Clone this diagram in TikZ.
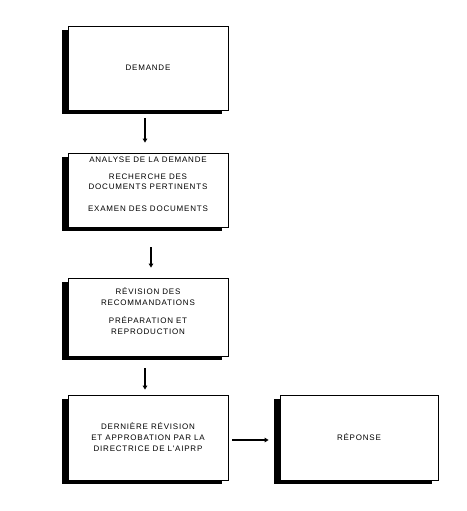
\documentclass[tikz,border=0pt]{standalone}
\usepackage{fontspec}
\newfontfamily\boxfont{Liberation Sans}[LetterSpace=10]
\usepackage{tikz}
\usetikzlibrary{shapes,arrows,positioning,calc,shadows,arrows.meta}

\tikzset{
    etape/.style={draw, line width=0.8pt, fill=white, minimum width=160pt, align=center,
        font=\boxfont\fontsize{8}{10.5}\selectfont,
        drop shadow={shadow xshift=-6pt, shadow yshift=-4pt, fill=black, opacity=1}},
    fleche/.style={line width=1.8pt, -{Triangle[length=4pt,width=4.5pt]}}
}

\begin{document}
\begin{tikzpicture}[x=1pt, y=-1pt]
            \useasboundingbox (0,0) rectangle (466,511);

            % Demande
            \node[etape, minimum height=84pt] (dem) at (148,68) {DEMANDE};

            % Analyse
            \node[etape, minimum height=74pt] (ana) at (148,190) {ANALYSE DE LA DEMANDE\\[6pt]
                RECHERCHE DES\\DOCUMENTS PERTINENTS\\[11pt]EXAMEN DES DOCUMENTS\\[1pt]\mbox{}};

            % Revision
            \node[etape, minimum height=78pt] (rev) at (148,317) {RÉVISION DES\\RECOMMANDATIONS\\[8pt]
                PRÉPARATION ET\\REPRODUCTION\\[1pt]\mbox{}};

            % Approbation
            \node[etape, minimum height=85pt] (app) at (148,437.5) {DERNIÈRE RÉVISION\\ET APPROBATION PAR LA\\[1pt]
                DIRECTRICE DE L'AIPRP};

            % Reponse
            \node[etape, minimum width=158pt, minimum height=85pt] (rep) at (359,437.5) {RÉPONSE};

            \draw[fleche, shorten <=8pt, shorten >=10pt] ([xshift=-3pt]dem.south) -- ([xshift=-3pt]ana.north);
            \draw[fleche, shorten <=20pt, shorten >=10pt] ([xshift=3pt]ana.south) -- ([xshift=3pt]rev.north);
            \draw[fleche, shorten <=12pt, shorten >=5pt] ([xshift=-3pt]rev.south) -- ([xshift=-3pt]app.north);
            \draw[fleche, line width=2.6pt, shorten <=4pt, shorten >=11pt] ([yshift=-2.5pt]app.east) -- ([yshift=-2.5pt]rep.west);
        \end{tikzpicture}
\end{document}
